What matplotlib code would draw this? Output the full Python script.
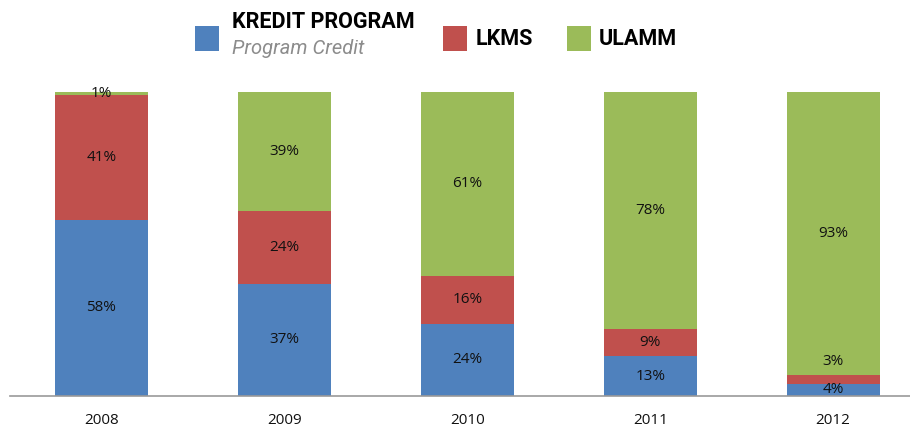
import numpy as np
import matplotlib.pyplot as plt
from matplotlib.patches import Rectangle

# --- Data (percent shares per year) ---
years = ['2008', '2009', '2010', '2011', '2012']
kredit = [58, 37, 24, 13, 4]
lkms = [41, 24, 16, 9, 3]
ulamm = [1, 39, 61, 78, 93]

colors = ['#4F81BD', '#C0504D', '#9BBB59']

series = np.array([kredit, lkms, ulamm], dtype=float)
shares = series / series.sum(axis=0) * 100  # stacked to 100%

fig = plt.figure(figsize=(9.10, 4.29), dpi=100)
ax = fig.add_axes([10 / 910, 33 / 429, 900 / 910, 304 / 429])

x = np.arange(len(years))
bottom = np.zeros(len(years))
for i, (vals, raw) in enumerate(zip(shares, series)):
    ax.bar(x, vals, width=0.51, bottom=bottom, color=colors[i], linewidth=0)
    for j in range(len(years)):
        yc = bottom[j] + vals[j] / 2
        dy = 0
        # small segment label gets pushed up like in the original
        if i == 1 and j == 4:
            dy = 13
        ax.annotate(f'{int(raw[j])}%', (x[j], yc), xytext=(0, dy),
                    textcoords='offset points', ha='center', va='center',
                    fontsize=11, family='Open Sans', color='#111111')
    bottom += vals

ax.set_xlim(-0.5, 4.42)
ax.set_ylim(0, 100)
ax.set_xticks(x)
ax.set_xticklabels(years, fontsize=11, family='Open Sans', color='#111111')
ax.tick_params(axis='x', length=0, pad=12)
ax.set_yticks([])
for s in ['top', 'right', 'left']:
    ax.spines[s].set_visible(False)
ax.spines['bottom'].set_color('#999999')
ax.spines['bottom'].set_linewidth(1.2)

# --- Legend drawn by hand ---
def fx(px):
    return px / 910

def fy(py):
    return 1 - py / 429

leg = [
    (195, colors[0], 232, 'KREDIT PROGRAM'),
    (443, colors[1], 476, 'LKMS'),
    (567, colors[2], 599, 'ULAMM'),
]
for sx, c, tx, label in leg:
    fig.patches.append(Rectangle((fx(sx), fy(51)), fx(24), 25 / 429,
                                 transform=fig.transFigure, color=c,
                                 linewidth=0))
    ty = 22 if label == 'KREDIT PROGRAM' else 39
    fig.text(fx(tx), fy(ty), label, fontsize=15.5, family='Roboto',
             weight='bold', va='center', ha='left', color='#000000')

fig.text(fx(232), fy(49), 'Program Credit', fontsize=14.5, family='Roboto',
         style='italic', va='center', ha='left', color='#8c8c8c')

fig.savefig('out.png', dpi=100)
